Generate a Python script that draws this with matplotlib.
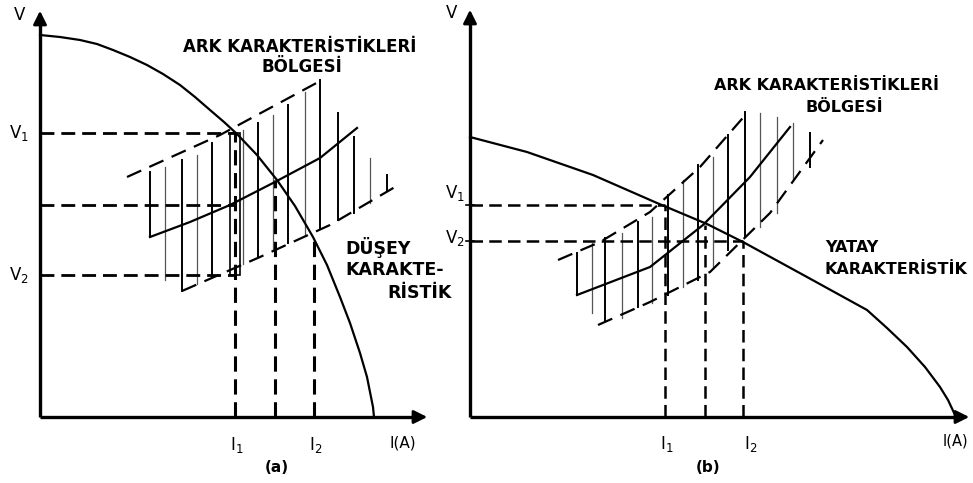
import matplotlib.pyplot as plt
from matplotlib.patches import Rectangle

# --- (a) düşey karakteristikli kaynak ---
kaynak_a_I = [0, 20, 40, 57, 73, 90, 107, 123, 140, 155, 170, 184, 197, 217, 237, 255,
              273, 287, 300, 310, 320, 327, 333, 334]
kaynak_a_V = [382, 380, 377, 373, 367, 360, 352, 343, 332, 320, 307, 295, 283, 262, 237, 211,
              180, 152, 120, 94, 64, 40, 10, 0]

ark_orta_a_I = [110, 150, 190, 233, 280, 317]
ark_orta_a_V = [180, 195, 212, 234, 259, 289]
ark_ust_a_I = [87, 180, 282]
ark_ust_a_V = [240, 282, 337]
ark_alt_a_I = [142, 220, 290, 355]
ark_alt_a_V = [126, 160, 192, 230]

tarama_a_I = [110, 125, 142, 157, 172, 203, 218, 233, 248, 265, 280, 298, 314, 330, 347]
tarama_a_ust = [245, 250, 257, 262, 274, 287, 294, 302, 312, 325, 337, 304, 280, 259, 242]
tarama_a_alt = [180, 137, 126, 133, 140, 153, 160, 167, 174, 182, 189, 197, 204, 214, 227]
tarama_a_kalin = [1, 0, 1, 0, 1, 0, 1, 0, 1, 0, 1, 1, 1, 0, 1]

I1_a, Iorta_a, I2_a = 195, 235, 274
V1_a, Vorta_a, V2_a = 284, 212, 142
Vkes_orta_a, Vkes_I2_a = 237, 180

# --- (b) yatay karakteristikli kaynak ---
kaynak_b_I = [0, 57, 123, 187, 237, 273, 337, 397, 417, 437, 455, 470, 478, 486]
kaynak_b_V = [280, 265, 242, 214, 193, 175, 140, 107, 89, 70, 50, 30, 17, 0]

ark_orta_b_I = [107, 180, 233, 280, 320]
ark_orta_b_V = [122, 150, 192, 240, 290]
ark_ust_b_I = [88, 130, 180, 230, 278]
ark_ust_b_V = [157, 175, 205, 250, 305]
ark_alt_b_I = [128, 180, 240, 300, 353]
ark_alt_b_V = [92, 115, 145, 204, 277]

tarama_b_I = [107, 122, 135, 152, 168, 182, 198, 213, 228, 243, 258, 275, 290, 307, 323, 340]
tarama_b_ust = [164, 174, 179, 184, 195, 200, 222, 237, 252, 260, 282, 305, 304, 300, 294, 284]
tarama_b_alt = [122, 104, 97, 99, 110, 114, 122, 130, 137, 150, 167, 180, 190, 204, 237, 250]
tarama_b_kalin = [1, 0, 1, 0, 1, 0, 1, 0, 1, 0, 1, 1, 0, 0, 0, 1]

I1_b, Iorta_b, I2_b = 195, 235, 273
V1_b, V2_b = 212, 176
Vkes_orta_b = 192

KESIK = (0, (5, 2.5))


def eksenler(ax, x_uc, y_uc):
    ax.plot([0, 0], [0, y_uc - 14], color='black', lw=2.4, solid_capstyle='butt')
    ax.plot([0, x_uc - 14], [0, 0], color='black', lw=2.4, solid_capstyle='butt')
    ax.annotate('', xy=(0, y_uc), xytext=(0, y_uc - 16),
                arrowprops=dict(arrowstyle='-|>', color='black', lw=2, mutation_scale=20))
    ax.annotate('', xy=(x_uc, 0), xytext=(x_uc - 16, 0),
                arrowprops=dict(arrowstyle='-|>', color='black', lw=2, mutation_scale=20))


def ark_bolgesi(ax, orta_I, orta_V, ust_I, ust_V, alt_I, alt_V, t_I, t_ust, t_alt, t_kalin):
    for x, u, a, k in zip(t_I, t_ust, t_alt, t_kalin):
        if k:
            ax.plot([x, x], [a, u], color='black', lw=1.4)
        else:
            ax.plot([x, x], [a, u], color='#555555', lw=0.9)
    ax.plot(orta_I, orta_V, color='black', lw=1.6)
    ax.plot(ust_I, ust_V, color='black', lw=1.6, linestyle=(0, (7, 4)))
    ax.plot(alt_I, alt_V, color='black', lw=1.6, linestyle=(0, (7, 4)))


fig = plt.figure(figsize=(9.73, 4.83), dpi=100)
ax_a = fig.add_axes([0, 0, 1, 1])
ax_b = fig.add_axes([0, 0, 1, 1])
ax_a.set_xlim(-40, 933)
ax_b.set_xlim(-470, 503)
for ax in (ax_a, ax_b):
    ax.set_ylim(-66, 417)
    ax.axis('off')
ax_b.patch.set_alpha(0)

yazi = dict(family='DejaVu Sans', color='black')
baslik = dict(family='DejaVu Sans', color='black', fontweight='bold')

# (a)
ax = ax_a
eksenler(ax, 390, 409)
ark_bolgesi(ax, ark_orta_a_I, ark_orta_a_V, ark_ust_a_I, ark_ust_a_V,
            ark_alt_a_I, ark_alt_a_V, tarama_a_I, tarama_a_ust, tarama_a_alt, tarama_a_kalin)
ax.add_patch(Rectangle((I1_a - 5, V2_a), 10, V1_a - V2_a, fill=False, lw=1.2, ec='black'))
ax.plot(kaynak_a_I, kaynak_a_V, color='black', lw=1.6)
for v in (V1_a, Vorta_a, V2_a):
    ax.plot([0, I1_a], [v, v], color='black', lw=2, linestyle=KESIK)
ax.plot([I1_a, I1_a], [0, V1_a], color='black', lw=2.2, linestyle=KESIK)
ax.plot([Iorta_a, Iorta_a], [0, Vkes_orta_a], color='black', lw=2.2, linestyle=KESIK)
ax.plot([I2_a, I2_a], [0, Vkes_I2_a], color='black', lw=2.2, linestyle=KESIK)

ax.text(-20, 402, 'V', fontsize=12, ha='center', va='center', **yazi)
ax.text(-21, V1_a, 'V$_1$', fontsize=12, ha='center', va='center', **yazi)
ax.text(-21, V2_a, 'V$_2$', fontsize=12, ha='center', va='center', **yazi)
ax.text(I1_a + 2, -28, 'I$_1$', fontsize=12, ha='center', va='center', **yazi)
ax.text(I2_a + 2, -28, 'I$_2$', fontsize=12, ha='center', va='center', **yazi)
ax.text(363, -26, 'I(A)', fontsize=11, ha='center', va='center', **yazi)
ax.text(237, -51, '(a)', fontsize=11, ha='center', va='center', **baslik)
ax.text(260, 370, 'ARK KARAKTERİSTİKLERİ', fontsize=12, ha='center', va='center', **baslik)
ax.text(262, 350, 'BÖLGESİ', fontsize=12, ha='center', va='center', **baslik)
ax.text(305, 169, 'DÜŞEY', fontsize=12.5, ha='left', va='center', **baslik)
ax.text(305, 147, 'KARAKTE-', fontsize=12.5, ha='left', va='center', **baslik)
ax.text(347, 124, 'RİSTİK', fontsize=12.5, ha='left', va='center', **baslik)

# (b)
ax = ax_b
eksenler(ax, 502, 410)
ark_bolgesi(ax, ark_orta_b_I, ark_orta_b_V, ark_ust_b_I, ark_ust_b_V,
            ark_alt_b_I, ark_alt_b_V, tarama_b_I, tarama_b_ust, tarama_b_alt, tarama_b_kalin)
ax.plot(kaynak_b_I, kaynak_b_V, color='black', lw=1.6)
ax.plot([0, I1_b], [V1_b, V1_b], color='black', lw=1.8, linestyle=KESIK)
ax.plot([0, I2_b], [V2_b, V2_b], color='black', lw=1.8, linestyle=KESIK)
ax.plot([I1_b, I1_b], [0, V1_b], color='black', lw=1.8, linestyle=KESIK)
ax.plot([Iorta_b, Iorta_b], [0, Vkes_orta_b], color='black', lw=1.8, linestyle=KESIK)
ax.plot([I2_b, I2_b], [0, V2_b], color='black', lw=1.8, linestyle=KESIK)
ax.plot([-4, 4], [V1_b, V1_b], color='black', lw=1.2)
ax.plot([-4, 4], [V2_b, V2_b], color='black', lw=1.2)

ax.text(-18, 404, 'V', fontsize=12, ha='center', va='center', **yazi)
ax.text(-15, V1_b + 12, 'V$_1$', fontsize=12, ha='center', va='center', **yazi)
ax.text(-15, V2_b + 3, 'V$_2$', fontsize=12, ha='center', va='center', **yazi)
ax.text(I1_b + 2, -27, 'I$_1$', fontsize=12, ha='center', va='center', **yazi)
ax.text(I2_b + 8, -27, 'I$_2$', fontsize=12, ha='center', va='center', **yazi)
ax.text(485, -24, 'I(A)', fontsize=10.5, ha='center', va='center', **yazi)
ax.text(238, -51, '(b)', fontsize=11, ha='center', va='center', **baslik)
ax.text(357, 332, 'ARK KARAKTERİSTİKLERİ', fontsize=11.5, ha='center', va='center', **baslik)
ax.text(374, 309, 'BÖLGESİ', fontsize=11.5, ha='center', va='center', **baslik)
ax.text(355, 169, 'YATAY', fontsize=11.5, ha='left', va='center', **baslik)
ax.text(355, 147, 'KARAKTERİSTİK', fontsize=11.5, ha='left', va='center', **baslik)

fig.savefig('out.png', dpi=100)
